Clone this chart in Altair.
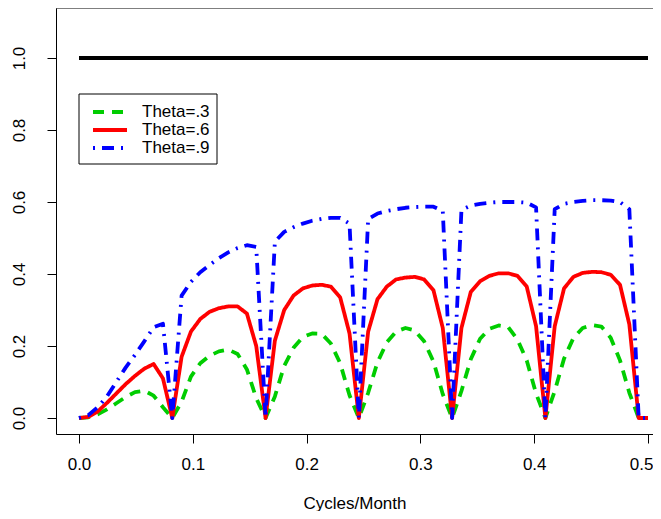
import altair as alt
import pandas as pd

# ---------------- data ----------------
series_names = ["Theta=.3", "Theta=.6", "Theta=.9"]

# frequency grid: 62 equally spaced points from 0 to 0.5 cycles/month
freq = [j / 122 for j in range(62)]

theta3 = [0, .002, .010, .024, .041, .058, .072, .076, .062, .030, 0,
          .045, .115, .152, .173, .185, .190, .178, .135, .055, 0,
          .060, .145, .195, .225, .235, .234, .207, .152, .063, 0,
          .070, .155, .210, .240, .250, .243, .213, .157, .066, 0,
          .075, .163, .220, .248, .257, .253, .218, .160, .068, 0,
          .075, .165, .222, .250, .258, .254, .223, .160, .070, 0, 0]

theta6 = [0, .003, .018, .042, .068, .094, .117, .137, .150, .110, 0,
          .170, .240, .275, .295, .305, .310, .310, .290, .200, 0,
          .215, .300, .340, .360, .368, .370, .365, .335, .235, 0,
          .240, .330, .365, .385, .390, .392, .385, .355, .250, 0,
          .250, .350, .380, .395, .402, .402, .395, .365, .255, 0,
          .255, .360, .392, .403, .406, .405, .398, .370, .260, 0, 0]

theta9 = [0, .008, .030, .060, .100, .140, .175, .213, .252, .262, 0,
          .340, .378, .405, .425, .444, .460, .472, .480, .475, 0,
          .490, .517, .530, .540, .548, .553, .556, .556, .540, 0,
          .553, .568, .575, .580, .584, .586, .587, .587, .575, 0,
          .578, .590, .595, .598, .600, .600, .600, .598, .585, 0,
          .580, .595, .600, .603, .605, .605, .604, .600, .580, 0, 0]

ref_freq = [0.0, 0.5]
ref_value = [1.0, 1.0]

x_ticks = [0.0, 0.1, 0.2, 0.3, 0.4, 0.5]
y_ticks = [0.0, 0.2, 0.4, 0.6, 0.8, 1.0]

# ---------------- styling ----------------
FONT = "Liberation Sans"
COLORS = ["#00CD00", "#FF0000", "#0000FF"]
DASHES = [[11, 8], [1, 0], [2, 7, 12, 7]]
LW = 3.8

W, H = 597, 426
PX_X = 1138.0          # pixels per unit on x
PX_Y = 360.0           # pixels per unit on y
x0 = -23 / PX_X
x_dom = [x0, x0 + W / PX_X]
y_top = 410 / PX_Y
y_dom = [y_top - H / PX_Y, y_top]

rows = []
for name, vals in zip(series_names, [theta3, theta6, theta9]):
    for f, v in zip(freq, vals):
        rows.append({"freq": f, "value": v, "series": name})
df = pd.DataFrame(rows)
ref_df = pd.DataFrame({"freq": ref_freq, "value": ref_value})
leg_df = pd.DataFrame({"series": series_names})
one = pd.DataFrame({"k": [0]})

xscale = alt.Scale(domain=x_dom, nice=False, zero=False)
yscale = alt.Scale(domain=y_dom, nice=False, zero=False)

color_enc = alt.Color("series:N", scale=alt.Scale(domain=series_names, range=COLORS), legend=None)
dash_enc = alt.StrokeDash("series:N", scale=alt.Scale(domain=series_names, range=DASHES), legend=None)

x_axis = alt.Axis(values=x_ticks, format=".1f", grid=False, domain=True, domainColor="black",
                  domainWidth=1, ticks=True, tickColor="black", tickSize=9, tickWidth=1,
                  labelFont=FONT, labelFontSize=17, labelColor="black", labelPadding=13,
                  labelFlush=10, labelFlushOffset=5, labelOverlap=False,
                  titleFont=FONT, titleFontSize=17, titleFontWeight="normal", titleColor="black",
                  titlePadding=23)
y_axis = alt.Axis(values=y_ticks, format=".1f", grid=False, domain=True, domainColor="black",
                  domainWidth=1, ticks=True, tickColor="black", tickSize=9, tickWidth=1,
                  labelFont=FONT, labelFontSize=17, labelColor="black", labelPadding=23,
                  labelAngle=270, labelAlign="center", labelBaseline="alphabetic",
                  labelFlush=False, labelOverlap=False)

lines = alt.Chart(df).mark_line(strokeWidth=LW, strokeJoin="round", clip=True).encode(
    x=alt.X("freq:Q", scale=xscale, axis=x_axis, title="Cycles/Month"),
    y=alt.Y("value:Q", scale=yscale, axis=y_axis, title=None),
    color=color_enc,
    strokeDash=dash_enc,
    detail="series:N",
)

ref_line = alt.Chart(ref_df).mark_line(strokeWidth=LW, color="black").encode(
    x=alt.X("freq:Q", scale=xscale),
    y=alt.Y("value:Q", scale=yscale),
)

main = alt.layer(lines, ref_line)

top_border = alt.Chart(one).mark_rule(color="black", strokeWidth=1).encode(
    x=alt.value(0), x2=alt.value(W), y=alt.value(0)
)

leg_box = alt.Chart(one).mark_rect(fill="white", stroke="black", strokeWidth=1).encode(
    x=alt.value(23), x2=alt.value(161), y=alt.value(86), y2=alt.value(156)
)
leg_y = alt.Y("series:N", scale=alt.Scale(type="point", domain=series_names, range=[104, 140], padding=0),
              axis=None)
leg_lines = alt.Chart(leg_df).mark_rule(strokeWidth=LW).encode(
    x=alt.value(37), x2=alt.value(71), y=leg_y, color=color_enc, strokeDash=dash_enc
)
leg_text = alt.Chart(leg_df).mark_text(align="left", baseline="middle", font=FONT, fontSize=17,
                                       color="black").encode(
    x=alt.value(86), y=leg_y, text="series:N"
)
legend = alt.layer(leg_box, leg_lines, leg_text)

chart = alt.layer(main, top_border, legend).resolve_scale(y="independent").properties(
    width=W, height=H,
    autosize=alt.AutoSizeParams(type="none"),
    padding={"left": 48, "top": 0, "right": 0, "bottom": 77},
    background="white",
).configure_view(strokeWidth=0)

chart.save("out.html", embed_options={"renderer": "svg", "actions": False})
